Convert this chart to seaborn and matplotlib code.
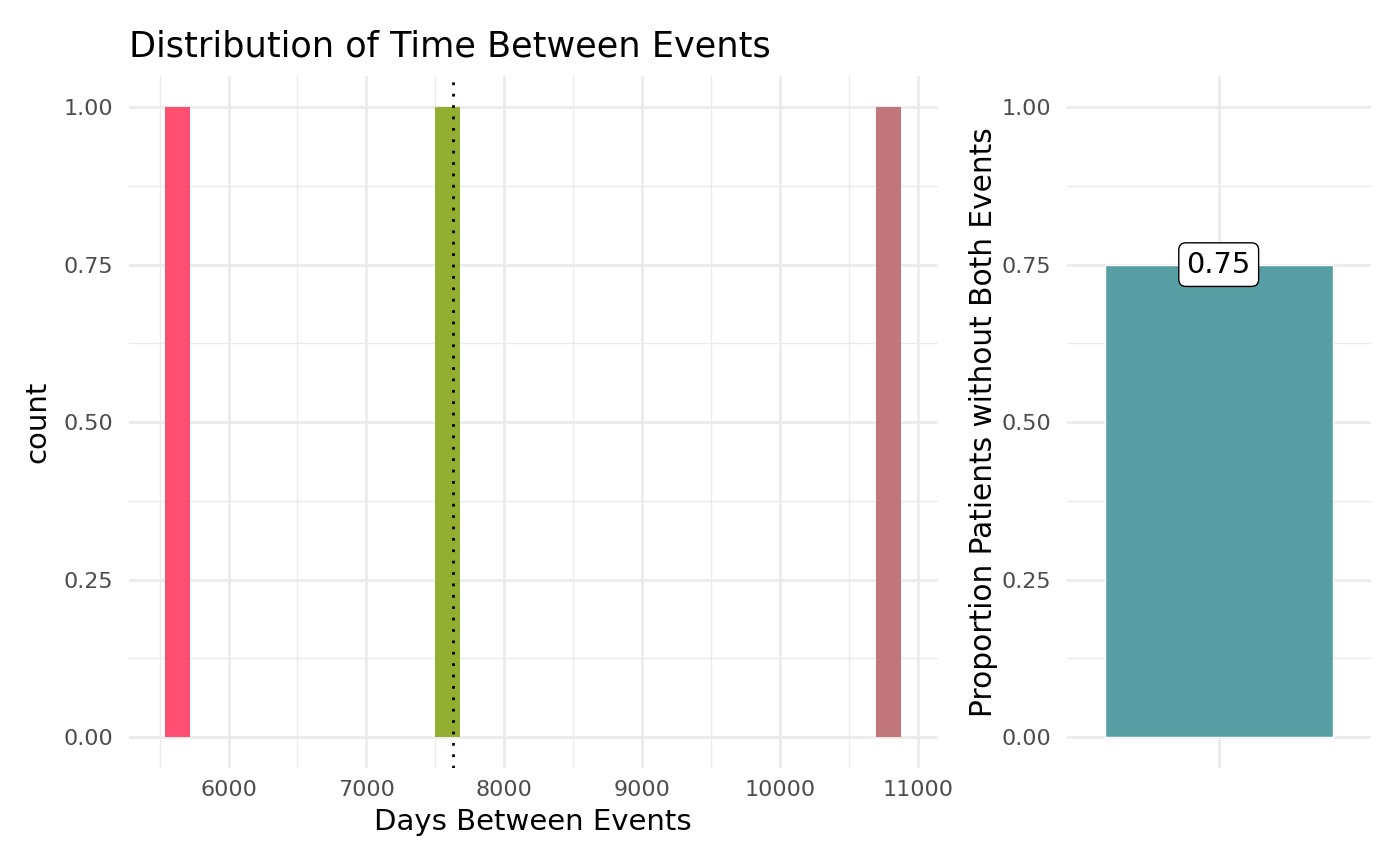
import numpy as np
import pandas as pd
import matplotlib
matplotlib.use("Agg")
import matplotlib.pyplot as plt
import seaborn as sns

# data
days_between = [5630, 7630, 10790]
patient = ["A", "B", "C"]
bar_colors = ["#FF4F70", "#93AE30", "#C0767A"]
prop_label = [""]
prop_without_both = [0.75]

sns.set_theme(style="white")
plt.rcParams["font.family"] = ["DejaVu Sans"]

grid_col = "#EBEBEB"
tick_col = "#4D4D4D"

df = pd.DataFrame({"days": days_between, "patient": patient})
prop_df = pd.DataFrame({"grp": prop_label, "prop": prop_without_both})

# ggplot-like 30 bins: first/last bin centred on min/max
n_bins = 30
width = (max(days_between) - min(days_between)) / (n_bins - 1)
edges = min(days_between) - width / 2 + width * np.arange(n_bins + 1)

fig = plt.figure(figsize=(14, 8.66), dpi=100)
ax1 = fig.add_axes([0.0918, 0.1126, 0.578, 0.800])
ax2 = fig.add_axes([0.762, 0.1126, 0.217, 0.800])

sns.histplot(data=df, x="days", hue="patient", bins=edges, palette=bar_colors,
             alpha=1, linewidth=0, legend=False, ax=ax1, zorder=3)
ax1.axvline(np.median(days_between), color="black", linestyle=(0, (1, 3.1)),
            linewidth=2.0, zorder=4)

lo, hi = edges[0], edges[-1]
pad = (hi - lo) * 0.05
ax1.set_xlim(lo - pad, hi + pad)
ax1.set_ylim(-0.05, 1.05)
ax1.set_xticks([6000, 7000, 8000, 9000, 10000, 11000])
ax1.set_xticks(np.arange(5500, 11001, 1000), minor=True)
ax1.set_yticks([0, 0.25, 0.5, 0.75, 1.0])
ax1.set_yticks([0.125, 0.375, 0.625, 0.875], minor=True)
ax1.set_yticklabels(["0.00", "0.25", "0.50", "0.75", "1.00"])
ax1.set_xlabel("Days Between Events", fontsize=21, color="black", labelpad=6)
ax1.set_ylabel("count", fontsize=21, color="black", labelpad=9)
ax1.set_title("Distribution of Time Between Events", fontsize=25.3, color="black",
              loc="left", x=0.0, pad=14)

sns.barplot(data=prop_df, x="grp", y="prop", color="#589EA5", saturation=1,
            width=0.9, ax=ax2, zorder=3)
ax2.set_xlim(-0.6, 0.6)
ax2.set_ylim(-0.05, 1.05)
ax2.set_yticks([0, 0.25, 0.5, 0.75, 1.0])
ax2.set_yticks([0.125, 0.375, 0.625, 0.875], minor=True)
ax2.set_yticklabels(["0.00", "0.25", "0.50", "0.75", "1.00"])
ax2.set_xticks([0])
ax2.set_xticklabels([""])
ax2.set_xlabel("")
ax2.set_ylabel("Proportion Patients without Both Events", fontsize=21.3,
               color="black", labelpad=3)
for v in prop_without_both:
    ax2.text(0, v, f"{v:.2f}", ha="center", va="center", fontsize=20.8, zorder=5,
             color="black",
             bbox=dict(boxstyle="round,pad=0.27,rounding_size=0.25",
                       facecolor="white", edgecolor="black", linewidth=1.0))

for ax in (ax1, ax2):
    for s in ax.spines.values():
        s.set_visible(False)
    ax.grid(True, which="major", color=grid_col, linewidth=2.0, zorder=0)
    ax.grid(True, which="minor", color=grid_col, linewidth=1.0, zorder=0)
    ax.set_axisbelow(True)
    ax.tick_params(which="both", length=0, labelsize=16, labelcolor=tick_col)
    ax.tick_params(axis="y", pad=11)
    ax.tick_params(axis="x", pad=8)

fig.savefig("out.png", dpi=100, facecolor="white")
